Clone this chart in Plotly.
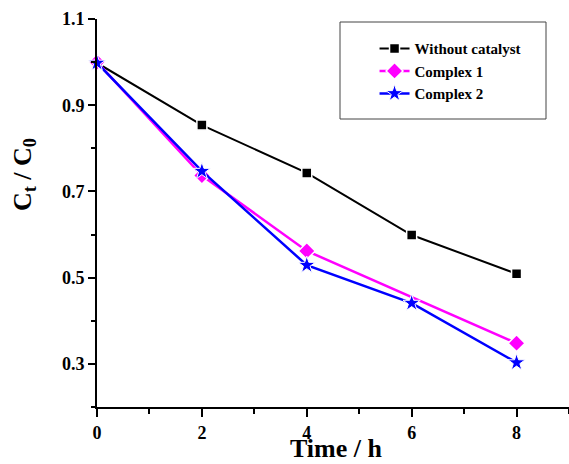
import plotly.graph_objects as go

time_wo = [0, 2, 4, 6, 8]
ratio_wo = [0.998, 0.854, 0.743, 0.599, 0.509]
time_c1 = [0, 2, 4, 8]
ratio_c1 = [1.0, 0.737, 0.562, 0.348]
time_c2 = [0, 2, 4, 6, 8]
ratio_c2 = [0.998, 0.747, 0.529, 0.441, 0.303]
names = ["Without catalyst", "Complex 1", "Complex 2"]

FONT = "Liberation Serif, Times New Roman, serif"

fig = go.Figure()
fig.add_trace(go.Scatter(x=time_wo, y=ratio_wo, name=names[0], mode="lines+markers",
                         line=dict(color="black", width=2),
                         marker=dict(symbol="square", size=10, color="black",
                                     line=dict(color="white", width=1.5)),
                         cliponaxis=False, legendgroup="a"))
fig.add_trace(go.Scatter(x=time_c1, y=ratio_c1, name=names[1], mode="lines+markers",
                         line=dict(color="#FF00FF", width=2.5),
                         marker=dict(symbol="diamond", size=13, color="#FF00FF",
                                     line=dict(color="white", width=1.5)),
                         cliponaxis=False, legendgroup="b"))
fig.add_trace(go.Scatter(x=time_c2, y=ratio_c2, name=names[2], mode="lines+markers",
                         line=dict(color="#0000FF", width=2.5),
                         marker=dict(symbol="star", size=13, color="#0000FF",
                                     line=dict(color="white", width=1)),
                         cliponaxis=False, legendgroup="c"))

fig.update_layout(
    width=569, height=464,
    margin=dict(l=97, r=0, t=19, b=57),
    paper_bgcolor="white", plot_bgcolor="white",
    font=dict(family=FONT, color="black", size=18, weight="bold"),
    showlegend=True,
    legend=dict(x=0.588, y=0.966, xanchor="left", yanchor="top",
                bgcolor="rgba(0,0,0,0)", borderwidth=0,
                font=dict(family=FONT, size=15, weight="bold", color="black"),
                traceorder="grouped", tracegroupgap=0),
    xaxis=dict(range=[0, 9], showgrid=False, zeroline=False,
               showline=True, linecolor="black", linewidth=2,
               ticks="outside", tickwidth=2, ticklen=8, tickcolor="black",
               tick0=0, dtick=2,
               minor=dict(ticks="outside", dtick=1, ticklen=5, tickwidth=2, tickcolor="black"),
               tickfont=dict(family=FONT, size=18, weight="bold")),
    yaxis=dict(range=[0.2, 1.1], showgrid=False, zeroline=False,
               showline=True, linecolor="black", linewidth=2,
               ticks="outside", tickwidth=2, ticklen=7, tickcolor="black",
               tick0=0.3, dtick=0.2, tickformat=".1f",
               minor=dict(ticks="outside", dtick=0.1, tick0=0.3, ticklen=4, tickwidth=2, tickcolor="black"),
               tickfont=dict(family=FONT, size=18, weight="bold")),
    shapes=[dict(type="rect", xref="paper", yref="paper",
                 x0=(340 - 97) / 472, x1=(546 - 97) / 472,
                 y0=1 - (119 - 19) / 388, y1=1 - (22 - 19) / 388,
                 line=dict(color="#444444", width=1), fillcolor="rgba(0,0,0,0)")],
    annotations=[
        dict(text="C<sub>t</sub> / C<sub>0</sub>", xref="paper", yref="paper",
             x=(24 - 97) / 472, y=1 - (175 - 19) / 388, textangle=-90,
             showarrow=False, xanchor="center", yanchor="middle",
             font=dict(family=FONT, size=26, weight="bold", color="black")),
        dict(text="Time / h", xref="paper", yref="paper",
             x=(336 - 97) / 472, y=1 - (464 - 19) / 388,
             showarrow=False, xanchor="center", yanchor="bottom", borderpad=0,
             font=dict(family=FONT, size=26, weight="bold", color="black")),
    ],
)

fig.write_html("out.html", config={"displayModeBar": False},
               post_script="document.body.style.margin='0';document.body.style.overflow='hidden';")
